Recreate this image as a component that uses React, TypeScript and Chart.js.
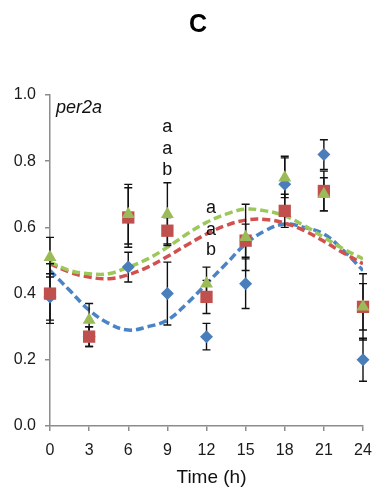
import React, { useEffect, useRef } from 'react';
import { Chart, registerables } from 'chart.js';

Chart.register(...registerables);

const W = 376;
const H = 495;
const FONT = '"Liberation Sans", Arial, Helvetica, sans-serif';

// Sampling times (h)
const times = [0, 3, 6, 9, 12, 15, 18, 21, 24];

// Blue diamonds
const blueMean = [0.39, 0.27, 0.48, 0.40, 0.27, 0.43, 0.73, 0.82, 0.20];
const blueErr = [0.07, 0.03, 0.045, 0.095, 0.04, 0.075, 0.085, 0.045, 0.065];
// Red squares
const redMean = [0.40, 0.27, 0.63, 0.59, 0.39, 0.56, 0.65, 0.71, 0.36];
const redErr = [0.09, 0.03, 0.09, 0.04, 0.05, 0.05, 0.05, 0.06, 0.07];
// Green triangles
const greenMean = [0.51, 0.32, 0.64, 0.64, 0.43, 0.57, 0.75, 0.70, 0.36];
const greenErr = [0.06, 0.05, 0.09, 0.095, 0.05, 0.10, 0.06, 0.05, 0.10];

// Fitted curves
const curveTimes = [0, 1.5, 3, 4.5, 6, 7.5, 9, 10.5, 12, 13.5, 15, 16.5, 18, 19.5, 21, 22.5, 24];
const blueCurve = [0.47, 0.41, 0.35, 0.31, 0.29, 0.30, 0.32, 0.37, 0.43, 0.49, 0.55, 0.59, 0.61, 0.60, 0.58, 0.53, 0.47];
const redCurve = [0.49, 0.465, 0.45, 0.445, 0.457, 0.48, 0.512, 0.547, 0.58, 0.606, 0.622, 0.624, 0.613, 0.59, 0.558, 0.523, 0.49];
const greenCurve = [0.495, 0.47, 0.46, 0.46, 0.48, 0.505, 0.54, 0.58, 0.615, 0.64, 0.655, 0.65, 0.635, 0.605, 0.57, 0.535, 0.505];

// Significance letters
const letterT = [9, 9, 9, 12.35, 12.35, 12.35];
const letterY = [0.903, 0.837, 0.773, 0.659, 0.592, 0.532];
const letterText = ['a', 'a', 'b', 'a', 'a', 'b'];

const xTicks = [0, 3, 6, 9, 12, 15, 18, 21, 24];
const yTicks = [0, 0.2, 0.4, 0.6, 0.8, 1.0];

const titleText = 'C';
const geneText = 'per2a';
const xTitle = 'Time (h)';

const BLUE = '#4a7ebb';
const RED = '#c0504d';
const GREEN = '#9bbb59';
const BLUE_D = '#4a84c6';
const RED_D = '#d2504e';
const GREEN_D = '#9cc85a';

const pts = (xs: number[], ys: number[]) => xs.map((x, i) => ({ x, y: ys[i] }));

const errorBarPlugin = {
  id: 'errorBars',
  beforeDatasetDraw(chart: any, args: any) {
    if (args.index !== 0) return;
    const { ctx } = chart;
    const xs = chart.scales.x;
    const ys = chart.scales.y;
    const series = [
      [blueMean, blueErr],
      [redMean, redErr],
      [greenMean, greenErr],
    ];
    ctx.save();
    ctx.strokeStyle = '#111';
    ctx.lineWidth = 1.4;
    for (const [m, e] of series) {
      for (let i = 0; i < times.length; i++) {
        const px = xs.getPixelForValue(times[i]);
        const top = ys.getPixelForValue(m[i] + e[i]);
        const bot = ys.getPixelForValue(m[i] - e[i]);
        ctx.beginPath();
        ctx.moveTo(px, top);
        ctx.lineTo(px, bot);
        ctx.moveTo(px - 4, top);
        ctx.lineTo(px + 4, top);
        ctx.moveTo(px - 4, bot);
        ctx.lineTo(px + 4, bot);
        ctx.stroke();
      }
    }
    ctx.restore();
  },
};

const textPlugin = {
  id: 'texts',
  afterDraw(chart: any) {
    const { ctx, chartArea } = chart;
    const xs = chart.scales.x;
    const ys = chart.scales.y;
    ctx.save();
    ctx.fillStyle = '#000';
    ctx.textAlign = 'center';
    ctx.textBaseline = 'middle';
    ctx.font = `bold 25px ${FONT}`;
    ctx.fillText(titleText, 198, 25);

    ctx.font = `19px ${FONT}`;
    ctx.fillStyle = '#111';
    ctx.fillText(xTitle, (chartArea.left + chartArea.right) / 2 + 5, 478);

    ctx.textAlign = 'left';
    ctx.font = `italic 18px ${FONT}`;
    ctx.fillText(geneText, 56, 108);

    ctx.textAlign = 'center';
    ctx.font = `18px ${FONT}`;
    for (let i = 0; i < letterText.length; i++) {
      ctx.fillText(letterText[i], xs.getPixelForValue(letterT[i]), ys.getPixelForValue(letterY[i]));
    }
    ctx.restore();
  },
};

export default function App() {
  const ref = useRef<HTMLCanvasElement>(null);

  useEffect(() => {
    const canvas = ref.current;
    if (!canvas) return;
    const markerBase = { showLine: false, borderWidth: 0, clip: false as any, pointHoverRadius: 0 };
    const curveBase = {
      showLine: true,
      pointRadius: 0,
      pointHoverRadius: 0,
      borderWidth: 3.5,
      borderDash: [8, 4],
      tension: 0.4,
      fill: false,
    };
    const chart = new Chart(canvas, {
      type: 'scatter',
      data: {
        datasets: [
          { ...markerBase, label: 'blue', data: pts(times, blueMean), pointStyle: 'rectRot', pointRadius: 6.5, backgroundColor: BLUE, borderColor: BLUE, order: 3 },
          { ...markerBase, label: 'red', data: pts(times, redMean), pointStyle: 'rect', pointRadius: 8.7, backgroundColor: RED, borderColor: RED, order: 2 },
          { ...markerBase, label: 'green', data: pts(times, greenMean), pointStyle: 'triangle', pointRadius: 7.5, backgroundColor: GREEN, borderColor: GREEN, order: 1 },
          { ...curveBase, label: 'blueFit', data: pts(curveTimes, blueCurve), borderColor: BLUE_D, order: 6 },
          { ...curveBase, label: 'redFit', data: pts(curveTimes, redCurve), borderColor: RED_D, order: 5 },
          { ...curveBase, label: 'greenFit', data: pts(curveTimes, greenCurve), borderColor: GREEN_D, order: 4 },
        ] as any,
      },
      options: {
        responsive: false,
        animation: false,
        devicePixelRatio: 1,
        layout: { padding: { top: 95, right: 13, left: 0, bottom: 0 } },
        plugins: { legend: { display: false }, tooltip: { enabled: false }, title: { display: false } },
        scales: {
          x: {
            type: 'linear',
            min: 0,
            max: 24,
            afterBuildTicks: (s: any) => { s.ticks = xTicks.map((v) => ({ value: v })); },
            afterFit: (s: any) => { s.height = 69; s.paddingLeft = 0; s.paddingRight = 0; },
            ticks: { font: { family: FONT, size: 16 }, color: '#1a1a1a', padding: 10, callback: (v: any) => String(v) },
            grid: { drawOnChartArea: false, drawTicks: true, tickLength: 5, color: '#8c8c8c', lineWidth: 1.5 },
            border: { color: '#8c8c8c', width: 1.5 },
          },
          y: {
            type: 'linear',
            min: 0,
            max: 1,
            afterBuildTicks: (s: any) => { s.ticks = yTicks.map((v) => ({ value: v })); },
            afterFit: (s: any) => { s.width = 50; s.paddingTop = 0; s.paddingBottom = 0; },
            ticks: { font: { family: FONT, size: 16 }, color: '#1a1a1a', padding: 9, callback: (v: any) => Number(v).toFixed(1) },
            grid: { drawOnChartArea: false, drawTicks: true, tickLength: 5, color: '#8c8c8c', lineWidth: 1.5 },
            border: { color: '#8c8c8c', width: 1.5 },
          },
        },
      } as any,
      plugins: [errorBarPlugin, textPlugin],
    });
    return () => chart.destroy();
  }, []);

  return (
    <div style={{ position: 'fixed', left: 0, top: 0, width: W, height: H, background: '#fff' }}>
      <canvas ref={ref} width={W} height={H} style={{ width: W, height: H, display: 'block' }} />
    </div>
  );
}
